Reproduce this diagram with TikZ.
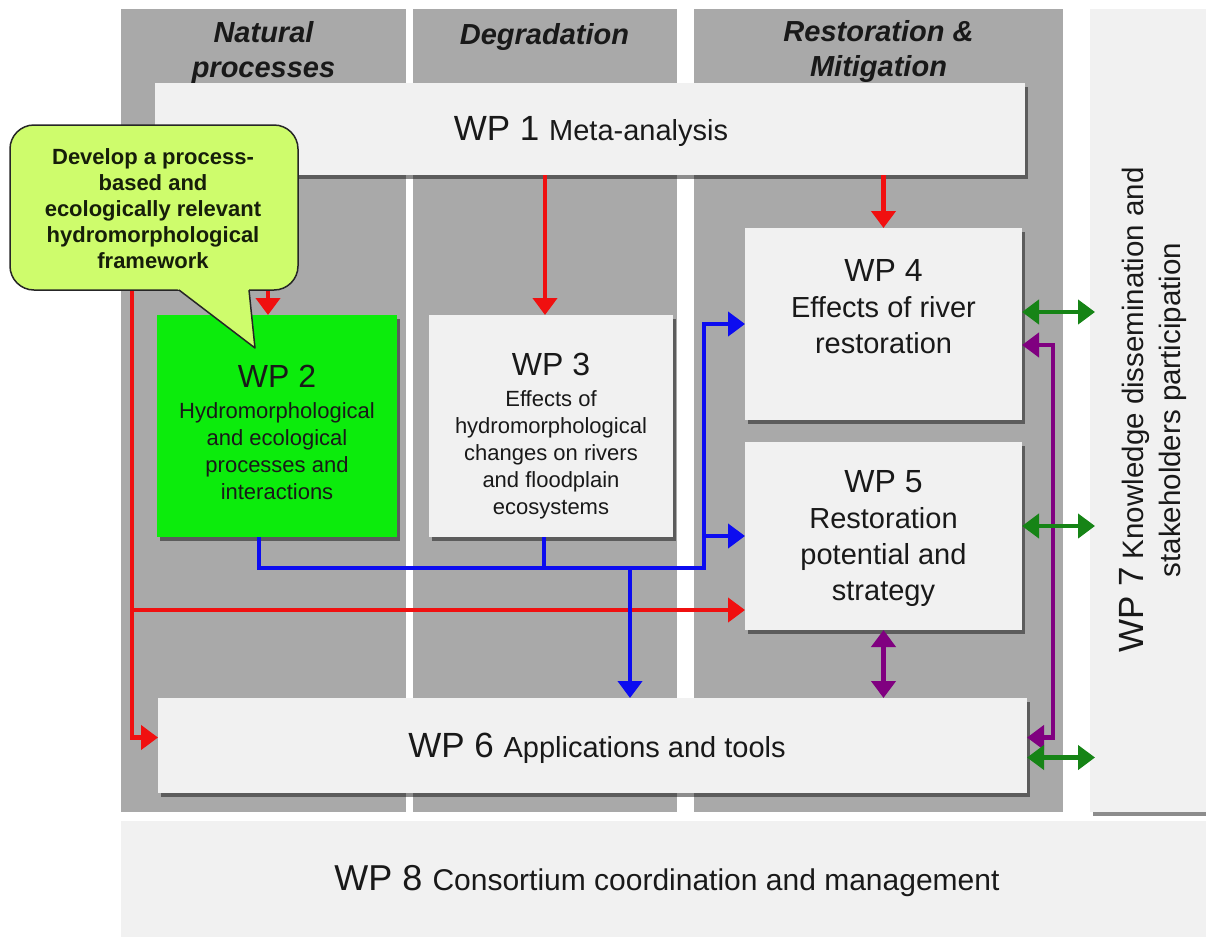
\documentclass[tikz,border=0pt]{standalone}
\usepackage{fontspec}
\setmainfont{Liberation Sans}
\usetikzlibrary{arrows.meta,shadows,calc}
\definecolor{panel}{RGB}{169,169,169}
\definecolor{boxfill}{RGB}{241,241,241}
\definecolor{wpgreen}{RGB}{12,236,12}
\definecolor{callfill}{RGB}{206,252,108}
\definecolor{calltxt}{RGB}{22,30,10}
\definecolor{cred}{RGB}{240,16,16}
\definecolor{cblue}{RGB}{12,12,240}
\definecolor{cgreen}{RGB}{22,132,22}
\definecolor{cpurple}{RGB}{128,0,128}
\definecolor{txt}{RGB}{25,25,25}
\begin{document}
\begin{tikzpicture}[x=1pt,y=-1pt,
  >={Triangle[length=17pt,width=24pt]},
  panelbox/.style={fill=panel},
  boxshadow/.style={drop shadow={shadow xshift=3pt,shadow yshift=-4pt,fill=black,opacity=0.45}},
  flatbox/.style={fill=boxfill, inner sep=0pt, outer sep=0pt},
  wpbox/.style={flatbox, boxshadow},
  greenbox/.style={fill=wpgreen, inner sep=0pt, outer sep=0pt, boxshadow},
  hdr/.style={font=\fontsize{29}{35}\selectfont\bfseries\itshape, text=txt, align=center, inner sep=0pt},
  wptext/.style={text=txt, align=center, inner sep=0pt},
  conn/.style={line width=4.5pt},
  redc/.style={conn, draw=cred},
  bluec/.style={conn, draw=cblue},
  purc/.style={conn, draw=cpurple},
  grc/.style={conn, draw=cgreen},
  calloutline/.style={draw=black!85, line width=1.5pt}
]
\useasboundingbox (0,0) rectangle (1206,937);
\fill[white] (0,0) rectangle (1206,937);

% column panels
\fill[panelbox] (121,9) rectangle (406,812);
\fill[panelbox] (413,9) rectangle (677,812);
\fill[panelbox] (694,9) rectangle (1063,812);

% WP7 and WP8
\node[wpbox, minimum width=116pt, minimum height=803pt] (wp7) at (1148,410.5) {};
\node[flatbox, minimum width=1085pt, minimum height=116pt] (wp8) at (663.5,879) {};

% headers
\node[hdr] (hnat) at (263.5,52.5) {Natural\\processes};
\node[hdr] (hdeg) at (544.5,37) {Degradation};
\node[hdr] (hres) at (878.5,51.5) {Restoration \&\\Mitigation};

% WP boxes
\node[wpbox, minimum width=870pt, minimum height=92pt] (wp1) at (590,129) {};
\node[greenbox, minimum width=240pt, minimum height=222pt] (wp2) at (277,426) {};
\node[wpbox, minimum width=244pt, minimum height=222pt] (wp3) at (551,426) {};
\node[wpbox, minimum width=277pt, minimum height=192pt] (wp4) at (883.5,324) {};
\node[wpbox, minimum width=277pt, minimum height=188pt] (wp5) at (883.5,536) {};
\node[wpbox, minimum width=869pt, minimum height=95pt] (wp6) at (592.5,745.5) {};

% helper coordinates
\coordinate (r2) at ($(wp2.north)+(-9,0)$);
\coordinate (r3) at ($(wp3.north)+(-6,0)$);
\coordinate (rv) at (132,610);
\coordinate (r6) at ($(wp6.west)+(0,-8)$);
\coordinate (bj) at (704,568);
\coordinate (bd) at (630,568);
\coordinate (b2) at ($(wp2.south)+(-18,0)$);
\coordinate (b3) at ($(wp3.south)+(-7,0)$);
\coordinate (pv) at (1053,540);
\coordinate (p4) at ($(wp4.east)+(0,21)$);
\coordinate (p6) at ($(wp6.east)+(0,-8)$);
\coordinate (g4) at ($(wp4.east)+(0,-12)$);
\coordinate (g5) at ($(wp5.east)+(0,-10)$);
\coordinate (g6) at ($(wp6.east)+(0,12)$);

% red connectors
\draw[redc,->] (r2 |- wp1.south) -- (r2);
\draw[redc,->] (r3 |- wp1.south) -- (r3);
\draw[redc,->] (wp4.north |- wp1.south) -- (wp4.north);
\draw[redc,->] (wp1.west) -| (rv) |- (r6);
\draw[redc,->] (rv) -- (rv -| wp5.west);

% blue connectors
\draw[bluec,->] (b2) |- (bj) |- (wp4.west);
\draw[bluec,->] (bj |- wp5.west) -- (wp5.west);
\draw[bluec] (b3) -- (b3 |- bj);
\draw[bluec,->] (bd) -- (bd |- wp6.north);

% purple connectors
\draw[purc,<->] (wp5.south) -- (wp5.south |- wp6.north);
\draw[purc,<->] (p4) -| (pv) |- (p6);

% green connectors
\draw[grc,<->,shorten >=-5pt] (g4) -- (g4 -| wp7.west);
\draw[grc,<->,shorten >=-5pt] (g5) -- (g5 -| wp7.west);
\draw[grc,<->,shorten >=-5pt] (g6) -- (g6 -| wp7.west);

% texts
\node[wptext] (wp1t) at (591,131) {\fontsize{35}{42}\selectfont WP 1 \fontsize{29}{35}\selectfont Meta-analysis};
\node[wptext, font=\fontsize{22}{27}\selectfont] (wp2t) at (277,432) {{\fontsize{32}{38}\selectfont WP 2}\\[4pt]Hydromorphological\\and ecological\\processes and\\interactions};
\node[wptext, font=\fontsize{22}{27}\selectfont] (wp3t) at (551,436) {{\fontsize{32}{38}\selectfont WP 3}\\[4pt]Effects of\\hydromorphological\\changes on rivers\\and floodplain\\ecosystems};
\node[wptext, font=\fontsize{29}{36}\selectfont] (wp4t) at (883.5,307) {{\fontsize{32}{38}\selectfont WP 4}\\Effects of river\\restoration};
\node[wptext, font=\fontsize{29}{36}\selectfont] (wp5t) at (883.5,538) {{\fontsize{32}{38}\selectfont WP 5}\\Restoration\\potential and\\strategy};
\node[wptext] (wp6t) at (597,748) {\fontsize{35}{42}\selectfont WP 6 \fontsize{29}{35}\selectfont Applications and tools};
\node[wptext, rotate=90, font=\fontsize{29.5}{37}\selectfont] (wp7t) at (1153,410) {{\fontsize{35}{42}\selectfont WP 7} Knowledge dissemination and\\stakeholders participation};
\node[wptext] (wp8t) at (667,881) {\fontsize{36}{42}\selectfont WP 8 \fontsize{30}{36}\selectfont Consortium coordination and management};

% callout
\draw[calloutline, fill=callfill, rounded corners=24pt] (10,125) rectangle (298,290);
\fill[callfill] (175,287) -- (255,348) -- (248.7,287) -- cycle;
\draw[calloutline, line join=round] (179,290) -- (255,348) -- (249,290);
\node[font=\fontsize{22}{26}\selectfont\bfseries, text=calltxt, align=center, inner sep=0pt] (callt) at (153,209) {Develop a process-\\based and\\ecologically relevant\\hydromorphological\\framework};
\end{tikzpicture}
\end{document}
